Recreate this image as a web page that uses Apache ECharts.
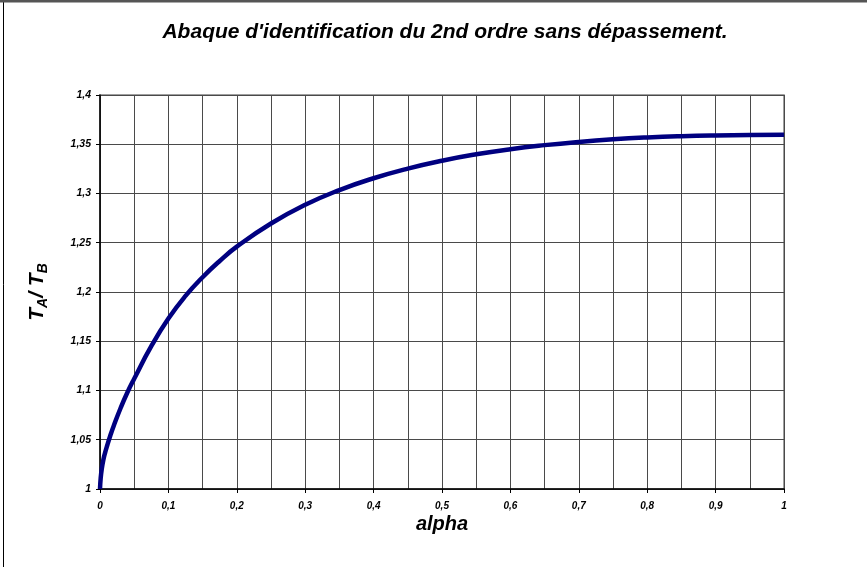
<!DOCTYPE html>
<html>
<head>
<meta charset="utf-8">
<script src="https://cdn.jsdelivr.net/npm/echarts@6/dist/echarts.min.js"></script>
<style>
  html, body { margin: 0; padding: 0; background: #fff; }
  #chart { width: 867px; height: 567px; }
</style>
</head>
<body>
<div id="chart"></div>
<script>
// Abaque: T_A / T_B versus alpha for a non-overshooting 2nd order system
const alpha = [0, 0.001, 0.0025, 0.005, 0.0075, 0.01, 0.015, 0.02, 0.03, 0.04, 0.05, 0.075, 0.1, 0.125, 0.15, 0.175, 0.2,
               0.25, 0.3, 0.35, 0.4, 0.45, 0.5, 0.55, 0.6, 0.65, 0.7, 0.75, 0.8, 0.85, 0.9, 0.95, 1];
const ratio = [1.000, 1.011, 1.020, 1.030, 1.037, 1.043, 1.054, 1.064, 1.082, 1.098, 1.112, 1.145, 1.173, 1.196, 1.215, 1.2315, 1.246,
               1.2695, 1.2885, 1.3035, 1.3155, 1.3253, 1.3333, 1.3398, 1.345, 1.3491, 1.3524, 1.355, 1.3569, 1.3582, 1.359, 1.3594, 1.3596];

const FONT = 'Arial, "Liberation Sans", sans-serif';
const fmt = v => String(Math.round(v * 100) / 100).replace('.', ',');
const gridLine = { show: true, lineStyle: { color: '#4a4a4a', width: 1 } };

const chart = echarts.init(document.getElementById('chart'), null, { renderer: 'canvas' });
chart.setOption({
  animation: false,
  backgroundColor: '#fff',
  title: {
    text: "Abaque d'identification du 2nd ordre sans dépassement.",
    left: 440, top: 17, textAlign: 'center',
    textStyle: { fontFamily: FONT, fontSize: 21, fontWeight: 'bold', fontStyle: 'italic', color: '#000' }
  },
  grid: { left: 100, right: 83, top: 95, bottom: 78, containLabel: false,
          show: true, borderColor: '#808080', borderWidth: 1.5 },
  xAxis: {
    type: 'value', min: 0, max: 1, interval: 0.1,
    name: 'alpha', nameLocation: 'middle', nameGap: 25, nameMoveOverlap: false,
    nameTextStyle: { fontFamily: FONT, fontSize: 20, fontWeight: 'bold', fontStyle: 'italic', color: '#000' },
    axisLine: { show: true, lineStyle: { color: '#000', width: 1.5 } },
    axisTick: { show: true, length: 4, lineStyle: { color: '#000' } },
    axisLabel: {
      fontFamily: FONT, fontSize: 10, fontWeight: 'bold', fontStyle: 'italic', color: '#000', margin: 12,
      formatter: v => fmt(v)
    },
    splitLine: gridLine,
    minorTick: { show: false, splitNumber: 2 },
    minorSplitLine: gridLine
  },
  yAxis: {
    type: 'value', min: 1, max: 1.4, interval: 0.05,
    name: '{t|T}{s|A}{t|/ T}{s|B}', nameLocation: 'middle', nameGap: 50, nameRotate: 90, nameMoveOverlap: false,
    nameTextStyle: {
      fontFamily: FONT, fontWeight: 'bold', fontStyle: 'italic', color: '#000',
      rich: {
        t: { fontFamily: FONT, fontSize: 21, fontWeight: 'bold', fontStyle: 'italic', color: '#000' },
        s: { fontFamily: FONT, fontSize: 14, fontWeight: 'bold', fontStyle: 'italic', color: '#000',
             padding: [11, 0, 0, 0] }
      }
    },
    axisLine: { show: true, lineStyle: { color: '#000', width: 1.5 } },
    axisTick: { show: true, length: 4, lineStyle: { color: '#000' } },
    axisLabel: {
      fontFamily: FONT, fontSize: 10.5, fontWeight: 'bold', fontStyle: 'italic', color: '#000', margin: 9,
      formatter: v => fmt(v)
    },
    splitLine: gridLine
  },
  graphic: [
    { type: 'rect', silent: true, z: 100,
      shape: { x: 3.5, y: 1.5, width: 900, height: 600 },
      style: { fill: 'none', stroke: '#000', lineWidth: 1 } },
    { type: 'line', silent: true, z: 101,
      shape: { x1: 0, y1: 1, x2: 867, y2: 1 },
      style: { stroke: '#555', lineWidth: 3 } }
  ],
  series: [{
    type: 'line',
    data: alpha.map((a, i) => [a, ratio[i]]),
    smooth: 0.5,
    showSymbol: false,
    clip: false,
    lineStyle: { color: '#000080', width: 4.5 }
  }]
});
</script>
</body>
</html>
